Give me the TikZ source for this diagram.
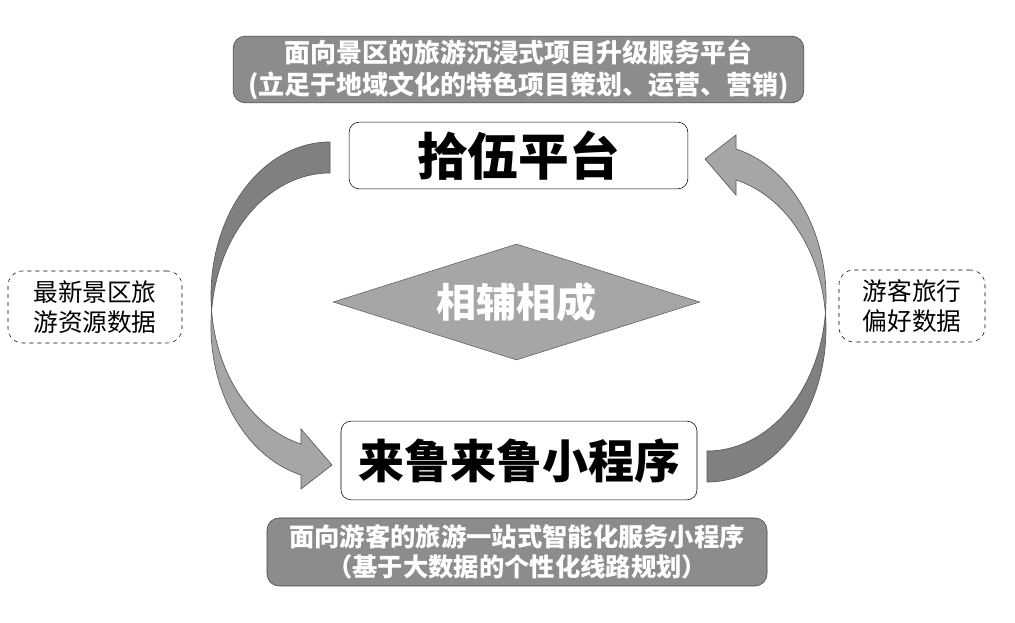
\documentclass[tikz,border=0pt]{standalone}
\usepackage{fontspec}
\usepackage{tikz}
\usetikzlibrary{shapes.geometric, positioning}
\newfontfamily\cjk{Noto Sans CJK SC}
\definecolor{bannerGray}{HTML}{8C8C8C}
\definecolor{edgeDark}{HTML}{404040}
\definecolor{diamondGray}{HTML}{A6A6A6}
\definecolor{arrowDark}{HTML}{808080}
\definecolor{arrowLight}{HTML}{A6A6A6}
\definecolor{arrowEdge}{HTML}{5A5A5A}

\begin{document}
\begin{tikzpicture}[x=0.75pt, y=-0.75pt]
    \tikzset{
        banner/.style={
            draw=edgeDark, fill=bannerGray, rounded corners=9pt,
            align=center, text=white, inner sep=0pt
        },
        mainbox/.style={
            draw=black, fill=white, rounded corners=7.5pt,
            inner sep=0pt, font=\cjk\bfseries
        },
        databox/.style={
            draw=black, dashed, rounded corners=11pt, align=center,
            inner sep=0pt, minimum height=54pt,
            font=\cjk\fontsize{18.5}{22.5}\selectfont
        },
        loop arrow/.pic={
            % back (darker) half of the band
            \draw[arrowEdge, fill=arrowDark, line width=0.5pt]
                (-188.5,-170) arc[start angle=270, end angle=174.2, x radius=119, y radius=153.3]
                arc[start angle=185.8, end angle=270, x radius=119, y radius=153.3] -- cycle;
            % front (lighter) half with the head
            \draw[arrowEdge, fill=arrowLight, line width=0.5pt, line join=miter]
                (-306.9,-1.2) arc[start angle=185.8, end angle=104.1, x radius=119, y radius=153.3]
                -- (-217.5,177) -- (-186.5,153) -- (-217.5,117) -- (-217.5,132)
                arc[start angle=104.1, end angle=174.2, x radius=119, y radius=153.3] -- cycle;
        }
    }

    \useasboundingbox (0,0) rectangle (1015,623);

    % --- curved arrows between the two platforms ---
    \pic at (518.5,312) {loop arrow};
    \pic[rotate=180] at (518.5,312) {loop arrow};

    % --- TOP: the platform ---
    \node[banner, minimum width=428pt, minimum height=50pt,
          font=\cjk\bfseries\fontsize{19.5}{24}\selectfont] (topBanner) at (518.5,69.5)
        {面向景区的旅游沉浸式项目升级服务平台\\(立足于地域文化的特色项目策划、运营、营销)};
    \node[mainbox, minimum width=254pt, minimum height=50pt] (platform) at (518.5,155.5)
        {\fontsize{38}{40}\selectfont 拾伍平台};

    % --- MIDDLE ---
    \node[diamond, draw=arrowEdge, fill=diamondGray, aspect=3, inner sep=0pt,
          minimum width=275pt, minimum height=87pt, text=white,
          font=\cjk\bfseries\fontsize{30}{32}\selectfont] (together) at (516.5,302) {相辅相成};
    \node[databox, minimum width=130.5pt] (scenicData) at (95,307)
        {最新景区旅\\游资源数据};
    \node[databox, minimum width=109.5pt] (touristData) at (912,306)
        {游客旅行\\偏好数据};

    % --- BOTTOM: the mini program ---
    \node[mainbox, minimum width=267pt, minimum height=59pt] (miniApp) at (519,460.5)
        {\fontsize{34.5}{36}\selectfont 来鲁来鲁小程序};
    \node[banner, minimum width=375pt, minimum height=51pt,
          font=\cjk\bfseries\fontsize{19}{22.5}\selectfont] (bottomBanner) at (517,552)
        {面向游客的旅游一站式智能化服务小程序\\（基于大数据的个性化线路规划）};
\end{tikzpicture}
\end{document}
